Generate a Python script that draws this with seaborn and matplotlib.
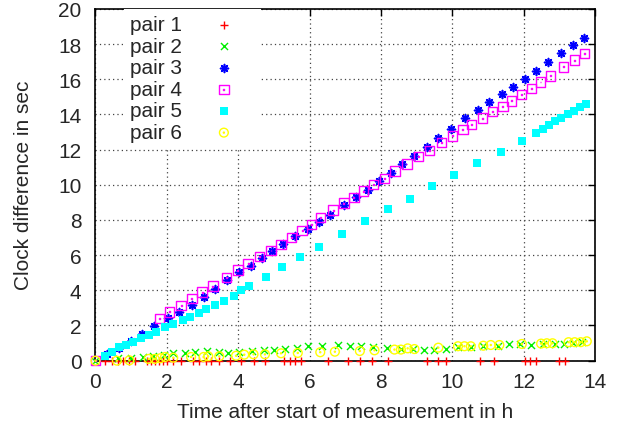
import numpy as np
import pandas as pd
import seaborn as sns
import matplotlib.pyplot as plt
from matplotlib.path import Path

# ==== Dữ liệu (giờ, giây) ====
pair1_t = [0.28, 0.45, 0.62, 0.78, 0.95, 1.12, 1.44, 1.56, 1.67, 1.78, 1.89, 2.01, 2.18, 2.40,
           2.74, 2.91, 3.10, 3.23, 3.46, 3.76, 4.08, 4.43, 4.75, 5.28, 5.46, 5.60, 5.76, 6.53,
           7.07, 7.42, 7.74, 8.21, 9.28, 9.59, 9.82, 10.78, 11.18, 12.04, 12.18, 12.36, 12.98, 13.17]
pair1_d = [0.0, 0.0, 0.0, 0.0, 0.0, 0.0, 0.0, 0.0, 0.0, 0.0, 0.0, 0.0, 0.0, 0.0,
           0.0, 0.0, 0.0, 0.0, 0.0, 0.0, 0.0, 0.0, 0.0, 0.0, 0.0, 0.0, 0.0, 0.0,
           0.0, 0.0, 0.0, 0.0, 0.0, 0.0, 0.0, 0.0, 0.0, 0.0, 0.0, 0.0, 0.0, 0.0]

pair2_t = [0.0, 0.63, 1.0, 1.33, 1.62, 1.92, 2.17, 2.50, 2.80, 3.12, 3.45, 3.71, 4.02, 4.39,
           4.71, 5.01, 5.32, 5.65, 5.97, 6.36, 6.81, 7.13, 7.45, 7.78, 8.17, 8.57, 8.91, 9.20,
           9.49, 9.82, 10.16, 10.52, 10.85, 11.29, 11.60, 11.90, 12.22, 12.55, 12.87, 13.13, 13.39, 13.65]
pair2_d = [0.0, 0.14, 0.14, 0.19, 0.25, 0.32, 0.42, 0.45, 0.51, 0.53, 0.49, 0.45, 0.51, 0.55,
           0.59, 0.63, 0.66, 0.74, 0.85, 0.85, 0.89, 0.85, 0.82, 0.80, 0.70, 0.66, 0.66, 0.63,
           0.63, 0.65, 0.76, 0.76, 0.85, 0.85, 0.93, 0.95, 0.91, 0.97, 0.97, 0.97, 1.02, 1.06]

pair3_t = [0.33, 0.67, 1.00, 1.30, 1.63, 2.02, 2.35, 2.70, 3.04, 3.36, 3.70, 4.03, 4.35,
           4.66, 4.94, 5.25, 5.59, 5.95, 6.27, 6.58, 6.97, 7.30, 7.64, 7.96, 8.28, 8.59, 8.92,
           9.29, 9.61, 9.96, 10.36, 10.71, 11.04, 11.40, 11.71, 12.03, 12.36, 12.69, 13.06, 13.37, 13.68]
pair3_d = [0.38, 0.74, 1.14, 1.53, 1.99, 2.43, 2.75, 3.16, 3.64, 4.07, 4.58, 5.06, 5.40,
           5.84, 6.25, 6.61, 7.07, 7.47, 7.90, 8.30, 8.85, 9.28, 9.72, 10.19, 10.66, 11.16, 11.61,
           12.16, 12.67, 13.16, 13.79, 14.26, 14.68, 15.15, 15.57, 16.00, 16.48, 16.95, 17.50, 17.95, 18.32]

pair4_t = [0.0, 1.79, 2.08, 2.40, 2.70, 2.99, 3.29, 3.67, 3.99, 4.28, 4.60, 4.92, 5.20, 5.49,
           5.79, 6.05, 6.31, 6.66, 6.96, 7.24, 7.51, 7.80, 8.10, 8.40, 8.73, 9.05, 9.36, 9.70,
           10.01, 10.30, 10.54, 10.84, 11.13, 11.42, 11.66, 11.94, 12.22, 12.48, 12.76, 13.12, 13.42, 13.71]
pair4_d = [0.0, 2.41, 2.77, 3.15, 3.52, 3.90, 4.24, 4.74, 5.15, 5.53, 5.93, 6.25, 6.59, 6.99,
           7.41, 7.73, 8.13, 8.56, 8.96, 9.28, 9.64, 10.00, 10.36, 10.78, 11.18, 11.61, 11.95, 12.39,
           12.78, 13.15, 13.43, 13.79, 14.15, 14.45, 14.77, 15.14, 15.48, 15.84, 16.19, 16.70, 17.08, 17.46]

pair5_t = [0.28, 0.47, 0.67, 0.86, 1.06, 1.29, 1.51, 1.70, 1.96, 2.18, 2.44, 2.66, 2.89, 3.11,
           3.36, 3.61, 3.87, 4.09, 4.31, 4.79, 5.24, 5.74, 6.27, 6.92, 7.56, 8.21, 8.81, 9.43,
           10.05, 10.69, 11.36, 11.96, 12.34, 12.55, 12.72, 12.89, 13.05, 13.25, 13.42, 13.59, 13.75]
pair5_d = [0.28, 0.51, 0.78, 0.89, 1.08, 1.31, 1.48, 1.65, 1.93, 2.10, 2.33, 2.48, 2.73, 2.95,
           3.18, 3.41, 3.69, 4.03, 4.26, 4.76, 5.34, 5.91, 6.48, 7.22, 7.95, 8.64, 9.20, 9.94,
           10.57, 11.25, 11.88, 12.50, 12.95, 13.18, 13.39, 13.64, 13.81, 14.03, 14.20, 14.43, 14.60]

pair6_t = [0.0, 0.60, 0.95, 1.49, 1.66, 1.82, 1.95, 2.18, 2.68, 3.03, 3.16, 3.47, 3.94, 4.17,
           4.43, 4.75, 5.20, 5.67, 6.30, 6.71, 7.41, 7.82, 8.38, 8.56, 8.75, 8.94, 9.61, 10.16,
           10.34, 10.52, 10.87, 11.08, 11.32, 11.95, 12.49, 12.65, 12.81, 13.26, 13.43, 13.60, 13.77]
pair6_d = [0.0, 0.0, 0.02, 0.10, 0.10, 0.14, 0.21, 0.17, 0.21, 0.21, 0.25, 0.25, 0.28, 0.34,
           0.36, 0.36, 0.42, 0.44, 0.48, 0.51, 0.55, 0.59, 0.63, 0.63, 0.70, 0.66, 0.74, 0.82,
           0.82, 0.82, 0.85, 0.89, 0.89, 0.95, 0.97, 0.99, 0.99, 1.05, 1.05, 1.05, 1.10]

labels = ["pair 1", "pair 2", "pair 3", "pair 4", "pair 5", "pair 6"]
colors = ["#ff0000", "#00ee00", "#0000ff", "#ff00ff", "#00ffff", "#ffff00"]

# ==== Marker kiểu gnuplot: ô vuông / vòng tròn có chấm giữa ====
sq = np.array([[-1, -1], [1, -1], [1, 1], [-1, 1], [-1, -1]])
box_dot = Path.make_compound_path(Path(sq, closed=True), Path(sq * 0.1, closed=True))
circ = Path.unit_circle()
circle_dot = Path.make_compound_path(circ, Path(circ.vertices * 0.12, circ.codes))

sns.set_style("white")
plt.rcParams["font.family"] = ["Liberation Sans", "DejaVu Sans"]
FS = 15

fig = plt.figure(figsize=(6.24, 4.27), dpi=100)
ax = fig.add_axes([0.153, 0.153, 0.8005, 0.824])

series = [
    (pair1_t, pair1_d, dict(marker="+", s=30, linewidth=1.0, color=colors[0])),
    (pair2_t, pair2_d, dict(marker="x", s=26, linewidth=1.0, color=colors[1])),
    (pair3_t, pair3_d, dict(marker=(8, 2, 0), s=32, linewidth=1.2, color=colors[2])),
    (pair4_t, pair4_d, dict(marker=box_dot, s=46, linewidth=1.0, facecolor="none", edgecolor=colors[3])),
    (pair5_t, pair5_d, dict(marker="s", s=34, linewidth=0, color=colors[4])),
    (pair6_t, pair6_d, dict(marker=circle_dot, s=40, linewidth=1.0, facecolor="none", edgecolor=colors[5])),
]
for (t, d, kw), lab in zip(series, labels):
    df = pd.DataFrame({"t": t, "d": d})
    sns.scatterplot(data=df, x="t", y="d", ax=ax, label=lab, clip_on=False, zorder=3, **kw)

ax.set_xlim(0, 14)
ax.set_ylim(0, 20)
ax.set_xticks(range(0, 15, 2))
ax.set_yticks(range(0, 21, 2))
ax.grid(True, color="#444444", linestyle=(0, (1, 2.5)), linewidth=0.9, zorder=0)
ax.set_axisbelow(True)
ax.tick_params(axis="both", direction="in", top=True, right=True, length=5, width=1,
               labelsize=FS, color="black")
ax.tick_params(axis="x", pad=8)
ax.tick_params(axis="y", pad=10)
for sp in ax.spines.values():
    sp.set_color("black")
    sp.set_linewidth(1.2)

ax.set_xlabel("Time after start of measurement in h", fontsize=FS)
ax.set_ylabel("Clock difference in sec", fontsize=FS)
ax.xaxis.set_label_coords(0.5, -0.117)
ax.yaxis.set_label_coords(-0.126, 0.5)

leg = ax.legend(loc="upper left", bbox_to_anchor=(0.057, 1.0), markerfirst=False,
                frameon=True, framealpha=1, fancybox=False, edgecolor="none",
                facecolor="white", fontsize=FS, handletextpad=0.5, handlelength=3.0,
                labelspacing=0.125, borderpad=0.3, borderaxespad=0.0)
leg.set_zorder(5)

fig.savefig("out.png", dpi=100)
